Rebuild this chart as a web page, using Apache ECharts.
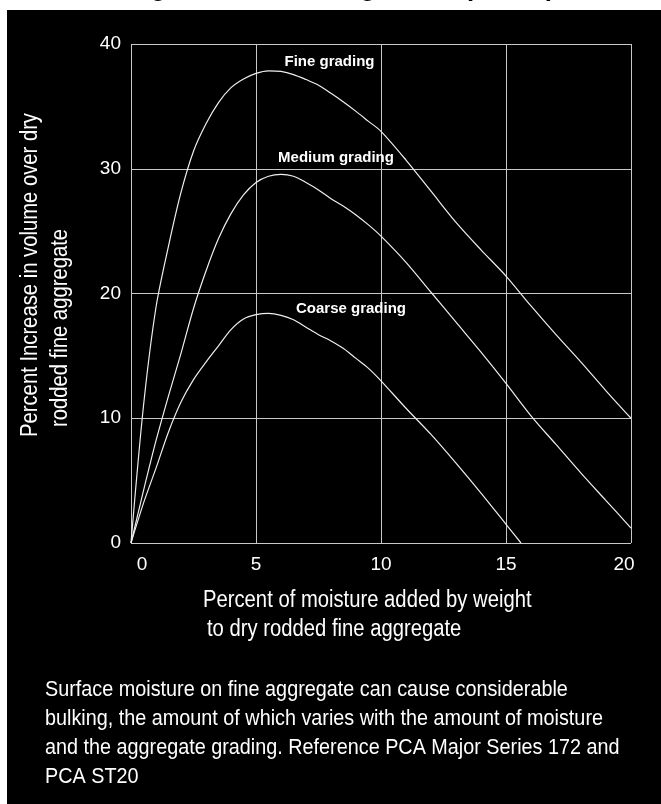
<!DOCTYPE html>
<html>
<head>
<meta charset="utf-8">
<script src="https://cdn.jsdelivr.net/npm/echarts@6/dist/echarts.min.js"></script>
<style>html,body{margin:0;padding:0;background:#fff}#c{width:661px;height:804px}</style>
</head>
<body>
<div id="c"></div>
<script>
// Moisture added (% by weight) — shared x positions where the curves were read
const moistureX = [0, 0.5, 1, 1.5, 2, 2.5, 3, 3.5, 4, 4.5, 5, 5.5, 6, 6.5, 7, 7.5, 8, 8.5, 9, 9.5, 10, 11, 12, 13, 14, 15, 16, 17, 18, 19, 20];
// Percent increase in volume over dry rodded fine aggregate
const fineY   = [0, 11, 18.9, 23.8, 28.1, 31.4, 33.6, 35.3, 36.5, 37.2, 37.65, 37.85, 37.8, 37.55, 37.15, 36.7, 36.05, 35.35, 34.6, 33.8, 33.0, 30.7, 28.2, 25.7, 23.5, 21.4, 19.0, 16.7, 14.5, 12.2, 10.0];
const mediumY = [0, 4.2, 8.2, 11.8, 15.2, 18.8, 21.8, 24.4, 26.4, 27.9, 28.9, 29.4, 29.55, 29.4, 28.9, 28.3, 27.6, 27.0, 26.3, 25.5, 24.6, 22.5, 20.1, 17.7, 15.3, 12.8, 10.2, 7.9, 5.6, 3.4, 1.2];
const coarseX = [0, 0.5, 1, 1.5, 2, 2.5, 3, 3.5, 4, 4.5, 5, 5.5, 6, 6.5, 7, 7.5, 8, 8.5, 9, 9.5, 10, 11, 12, 13, 14, 15, 15.6];
const coarseY = [0, 3.2, 6.0, 8.9, 11.3, 13.1, 14.5, 15.8, 17.1, 17.95, 18.3, 18.4, 18.25, 17.9, 17.3, 16.7, 16.2, 15.6, 14.8, 14.0, 13.0, 10.8, 8.7, 6.4, 4.0, 1.5, 0];
const seriesNames = ['Fine grading', 'Medium grading', 'Coarse grading'];
const labelAt = [[7.94, 38.6], [8.2, 30.85], [8.8, 18.8]];
const xTicks = [0, 5, 10, 15, 20];
const yTicks = [0, 10, 20, 30, 40];
const titleText = 'Bulking of Sand Grading Curve (ASTM)';
const xName = ['Percent of moisture added by weight', 'to dry rodded fine aggregate'];
const yName = ['Percent Increase in volume over dry', 'rodded fine aggregate'];
const caption = [
  'Surface moisture on fine aggregate can cause considerable',
  'bulking, the amount of which varies with the amount of moisture',
  'and the aggregate grading. Reference PCA Major Series 172 and',
  'PCA ST20'
];

const FONT = '"Liberation Sans", Arial, sans-serif';
const zip = (a, b) => a.map((v, i) => [v, b[i]]);
const seriesData = [zip(moistureX, fineY), zip(moistureX, mediumY), zip(coarseX, coarseY)];

const chart = echarts.init(document.getElementById('c'), null, {renderer: 'canvas'});
const gridCol = '#c8c8c8';
const SX = 0.88;
const txt = (text, x, y, size, extra) => Object.assign({
  type: 'text', x: x, y: y, scaleX: SX,
  style: {text: text, fill: '#fff', font: size + 'px ' + FONT, verticalAlign: 'middle'}
}, extra || {});

const option = {
  backgroundColor: '#000',
  animation: false,
  grid: {left: 131, right: 30, top: 44, bottom: 261},
  xAxis: {
    type: 'value', min: 0, max: 20, interval: 5,
    axisLine: {show: false}, axisTick: {show: false},
    splitLine: {show: true, lineStyle: {color: gridCol, width: 1}},
    axisLabel: {
      color: '#fff', fontFamily: FONT, fontSize: 19, margin: 12,
      formatter: v => xTicks.includes(v) ? (v === 0 ? '{a|0}' : v === 20 ? '{b|20}' : String(v)) : '',
      rich: {a: {padding: [0, 0, 0, 22], color: '#fff', fontFamily: FONT, fontSize: 19},
             b: {padding: [0, 14, 0, 0], color: '#fff', fontFamily: FONT, fontSize: 19}}
    }
  },
  yAxis: {
    type: 'value', min: 0, max: 40, interval: 10,
    axisLine: {show: false}, axisTick: {show: false},
    splitLine: {show: true, lineStyle: {color: gridCol, width: 1}},
    axisLabel: {color: '#fff', fontFamily: FONT, fontSize: 19, margin: 10,
      formatter: v => yTicks.includes(v) ? String(v) : ''}
  },
  series: seriesData.map((d, i) => ({
    type: 'line', name: seriesNames[i], data: d, smooth: 0.3,
    showSymbol: false, symbol: 'none',
    lineStyle: {color: '#eee', width: 1.2},
    markPoint: {
      symbol: 'circle', symbolSize: 0,
      data: [{coord: labelAt[i], value: seriesNames[i]}],
      label: {show: true, position: 'inside', formatter: seriesNames[i],
        color: '#fff', fontFamily: FONT, fontWeight: 'bold', fontSize: 15}
    }
  })),
  graphic: [
    {type: 'rect', left: 0, top: 0, shape: {width: 7, height: 804}, style: {fill: '#fff'}, silent: true},
    {type: 'rect', left: 0, top: 0, shape: {width: 661, height: 10}, style: {fill: '#fff'}, silent: true},
    {type: 'text', x: 71, y: -24.5, style: {text: titleText, fill: '#000', font: 'bold 26px ' + FONT, verticalAlign: 'top'}},
    txt(yName[0], 31, 275, 23, {rotation: Math.PI / 2, style: {text: yName[0], fill: '#fff', font: '23px ' + FONT, align: 'center', verticalAlign: 'middle'}}),
    txt(yName[1], 61, 328, 23, {rotation: Math.PI / 2, style: {text: yName[1], fill: '#fff', font: '23px ' + FONT, align: 'center', verticalAlign: 'middle'}}),
    txt(xName[0], 203, 601, 23),
    txt(xName[1], 207, 630, 23),
    ...caption.map((t, i) => txt(t, 45, 690 + i * 29, 22.5))
  ]
};
chart.setOption(option);
</script>
</body>
</html>
